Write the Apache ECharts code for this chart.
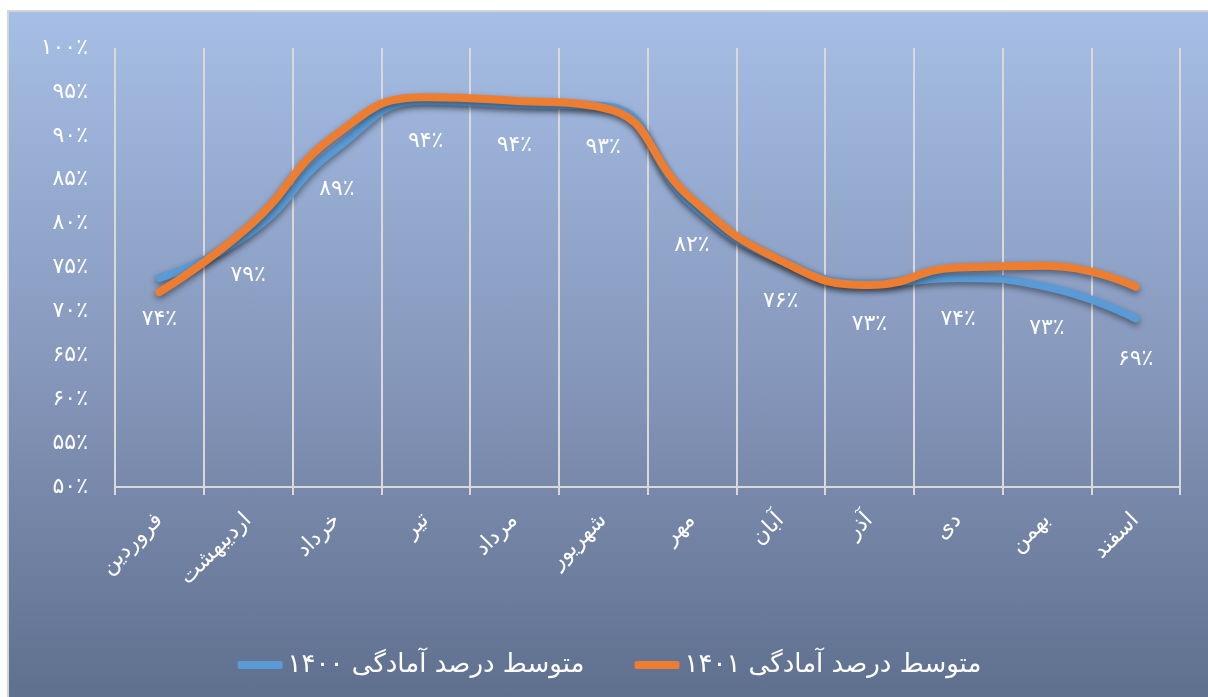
<!DOCTYPE html>
<html>
<head>
<meta charset="utf-8">
<script src="https://cdn.jsdelivr.net/npm/echarts@6/dist/echarts.min.js"></script>
<style>
  html, body { margin: 0; padding: 0; background: #ffffff; overflow: hidden; }
  #chart {
    position: absolute; left: 7px; top: 10px;
    width: 1201px; height: 687px;
    border-left: 2px solid #d4d4d4; border-top: 2px solid #d4d4d4;
    background: linear-gradient(to bottom, #a6bee5 0%, #8799bd 50%, #5f6f8e 100%);
  }
</style>
</head>
<body>
<div id="chart"></div>
<script>
const categories = ['فروردین','اردیبهشت','خرداد','تیر','مرداد','شهریور','مهر','آبان','آذر','دی','بهمن','اسفند'];
const seriesNames = ['متوسط درصد آمادگی ۱۴۰۰', 'متوسط درصد آمادگی ۱۴۰۱'];
const values1400 = [73.8, 78.8, 88.6, 94.0, 93.6, 93.4, 82.2, 75.8, 73.2, 73.8, 72.8, 69.2];
const values1401 = [72.2, 79.6, 90.2, 94.4, 94.0, 93.2, 82.8, 75.8, 73.0, 75.0, 75.2, 72.8];
const yTicks = [50, 55, 60, 65, 70, 75, 80, 85, 90, 95, 100];

const FONT = 'DejaVu Sans';
function fa(n) {
  return String(Math.round(n)).replace(/\d/g, d => '۰۱۲۳۴۵۶۷۸۹'[d]) + '٪';
}

const chart = echarts.init(document.getElementById('chart'), null, { renderer: 'canvas' });
chart.setOption({
  backgroundColor: 'transparent',
  animation: false,
  textStyle: { fontFamily: FONT },
  grid: { left: 106, right: 30, top: 36, bottom: 212, containLabel: false },
  legend: {
    top: 635,
    left: 'center',
    itemWidth: 45,
    itemHeight: 8,
    itemGap: 50,
    icon: 'roundRect',
    textStyle: { color: '#ffffff', fontSize: 26, fontFamily: FONT },
    data: seriesNames
  },
  xAxis: {
    type: 'category',
    data: categories,
    boundaryGap: true,
    axisLine: { show: true, lineStyle: { color: '#d9d9d9', width: 2 } },
    axisTick: { show: true, length: 8, inside: false, lineStyle: { color: '#d9d9d9', width: 2 } },
    splitLine: { show: true, lineStyle: { color: '#d9d9d9', width: 2 } },
    axisLabel: { color: '#ffffff', fontSize: 22, rotate: 45, margin: 30, fontFamily: FONT }
  },
  yAxis: {
    type: 'value',
    min: yTicks[0],
    max: yTicks[yTicks.length - 1],
    interval: 5,
    axisLine: { show: false },
    axisTick: { show: false },
    splitLine: { show: false },
    axisLabel: { color: '#ffffff', fontSize: 22, margin: 27, fontFamily: FONT, formatter: v => fa(v) }
  },
  series: [
    {
      name: seriesNames[0],
      type: 'line',
      data: values1400,
      smooth: 0.5,
      symbol: 'circle',
      symbolSize: 2,
      showSymbol: true,
      lineStyle: { color: '#5b9bd5', width: 8, cap: 'round', shadowColor: 'rgba(0,0,0,0.45)', shadowBlur: 6, shadowOffsetY: 3 },
      itemStyle: { color: '#5b9bd5' },
      label: {
        show: true, position: 'bottom', distance: 29,
        color: '#ffffff', fontSize: 22, fontFamily: FONT,
        formatter: p => fa(p.value)
      },
      z: 2
    },
    {
      name: seriesNames[1],
      type: 'line',
      data: values1401,
      smooth: 0.5,
      symbol: 'circle',
      symbolSize: 2,
      showSymbol: true,
      lineStyle: { color: '#ed7d31', width: 8, cap: 'round', shadowColor: 'rgba(0,0,0,0.45)', shadowBlur: 6, shadowOffsetY: 3 },
      itemStyle: { color: '#ed7d31' },
      z: 3
    }
  ]
});
</script>
</body>
</html>
